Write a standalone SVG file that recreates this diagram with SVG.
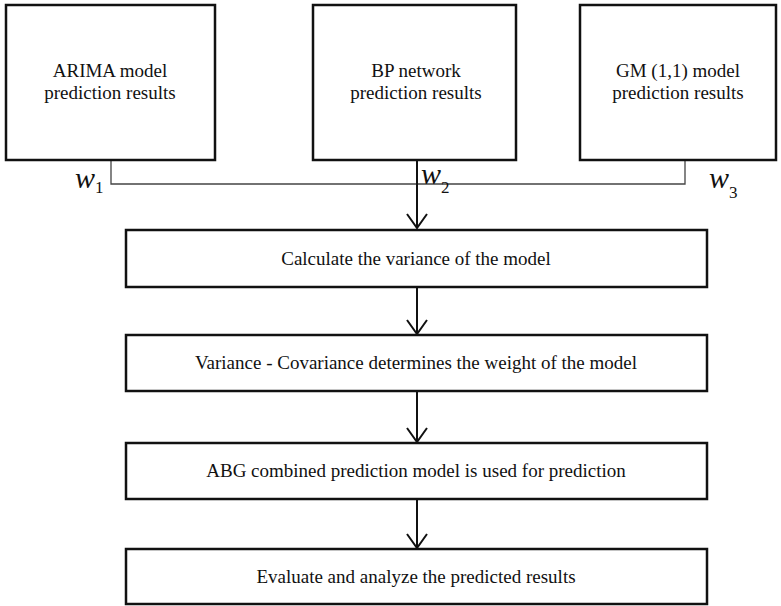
<svg xmlns="http://www.w3.org/2000/svg" width="781" height="606" viewBox="0 0 781 606">
<rect width="781" height="606" fill="#fff"/>
<g id="connectors" fill="none">
<polyline stroke="#444" stroke-width="1.3" points="111,160 111,184 685,184 685,160"/>
<g stroke="#111" stroke-width="2">
<line x1="417" y1="160" x2="417" y2="228"/>
<path d="M407,214 L417,228 L427,214"/>
<line x1="417" y1="287" x2="417" y2="334"/>
<path d="M407,320 L417,334 L427,320"/>
<line x1="417" y1="391" x2="417" y2="442"/>
<path d="M407,428 L417,442 L427,428"/>
<line x1="417" y1="499" x2="417" y2="548"/>
<path d="M407,534 L417,548 L427,534"/>
</g>
</g>
<g id="weights" fill="#111">
<text x="75" y="188" font-family="Liberation Serif" font-style="italic" font-size="30">w</text><text x="95" y="193" font-family="Liberation Serif" font-size="17">1</text>
<text x="421" y="184" font-family="Liberation Serif" font-style="italic" font-size="30">w</text><text x="441" y="193" font-family="Liberation Serif" font-size="17">2</text>
<text x="709" y="188" font-family="Liberation Serif" font-style="italic" font-size="30">w</text><text x="729" y="198" font-family="Liberation Serif" font-size="17">3</text>
</g>
<g id="arima">
<rect x="6" y="5" width="209" height="155" fill="#fff" stroke="#111" stroke-width="2.5"/>
<text x="110" y="77" font-family="Liberation Serif" font-size="19" fill="#111" text-anchor="middle">ARIMA model</text>
<text x="110" y="99" font-family="Liberation Serif" font-size="19" fill="#111" text-anchor="middle">prediction results</text>
</g>
<g id="bp">
<rect x="313" y="5" width="203" height="155" fill="#fff" stroke="#111" stroke-width="2.5"/>
<text x="416" y="77" font-family="Liberation Serif" font-size="19" fill="#111" text-anchor="middle">BP network</text>
<text x="416" y="99" font-family="Liberation Serif" font-size="19" fill="#111" text-anchor="middle">prediction results</text>
</g>
<g id="gm">
<rect x="580" y="5" width="196" height="155" fill="#fff" stroke="#111" stroke-width="2.5"/>
<text x="678" y="77" font-family="Liberation Serif" font-size="19" fill="#111" text-anchor="middle">GM (1,1) model</text>
<text x="678" y="99" font-family="Liberation Serif" font-size="19" fill="#111" text-anchor="middle">prediction results</text>
</g>
<g id="variance">
<rect x="126" y="230" width="581" height="57" fill="#fff" stroke="#111" stroke-width="2.5"/>
<text x="416" y="265" font-family="Liberation Serif" font-size="19" fill="#111" text-anchor="middle">Calculate the variance of the model</text>
</g>
<g id="covariance">
<rect x="126" y="335" width="581" height="56" fill="#fff" stroke="#111" stroke-width="2.5"/>
<text x="416" y="369" font-family="Liberation Serif" font-size="19" fill="#111" text-anchor="middle">Variance - Covariance determines the weight of the model</text>
</g>
<g id="abg">
<rect x="126" y="443" width="581" height="56" fill="#fff" stroke="#111" stroke-width="2.5"/>
<text x="416" y="477" font-family="Liberation Serif" font-size="19" fill="#111" text-anchor="middle">ABG combined prediction model is used for prediction</text>
</g>
<g id="evaluate">
<rect x="126" y="549" width="581" height="55" fill="#fff" stroke="#111" stroke-width="2.5"/>
<text x="416" y="583" font-family="Liberation Serif" font-size="19" fill="#111" text-anchor="middle">Evaluate and analyze the predicted results</text>
</g>
</svg>
